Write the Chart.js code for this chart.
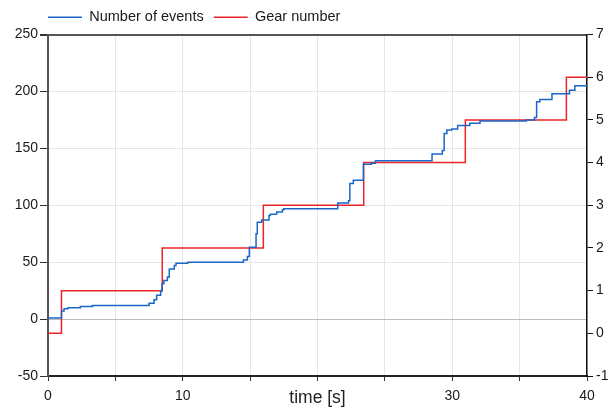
<!DOCTYPE html>
<html>
<head>
<meta charset="utf-8">
<script src="https://cdn.jsdelivr.net/npm/chart.js@4.4.1/dist/chart.umd.min.js"></script>
<style>
	html, body { margin: 0; padding: 0; background: #fff; }
	#wrap { width: 615px; height: 410px; }
</style>
</head>
<body>
<div id="wrap"><canvas id="c"></canvas></div>
<script>
// step changes: value holds from the given time until the next one
const eventTimes = [0, 1.0, 1.19, 1.48, 2.4, 3.3, 7.5, 7.87, 8.06, 8.36, 8.46, 8.6, 8.86, 9.0, 9.37, 9.5, 10.37,
	14.5, 14.8, 14.94, 15.44, 15.53, 15.86, 16.4, 16.5, 16.97, 17.4, 17.5, 21.5, 22.3, 22.4, 22.66, 23.4,
	24.0, 24.3, 28.5, 29.26, 29.4, 29.6, 29.96, 30.4, 31.3, 32.06, 35.5, 36.1, 36.26, 36.5, 37.4, 38.7, 39.1, 40];
const eventCounts = [1, 7, 9, 10, 11, 12, 14, 17, 21, 25, 31, 34, 37, 44, 47, 49, 50,
	52, 55, 63, 75, 85, 87, 91, 92, 94, 96, 97, 102, 104, 119, 122, 136,
	137, 139, 145, 148, 163, 166, 167, 170, 172, 174, 175, 177, 191, 193, 198, 201, 205, 205];

const gearTimes = [0, 1.0, 8.48, 15.98, 23.43, 30.97, 38.47, 40];
const gearValues = [0, 1, 2, 3, 4, 5, 6, 6];

// the axis title sits where the 20 label would be
const xTickLabels = [0, 10, 30, 40];
const leftRange = [-50, 250];
const rightRange = [-1, 7];

const toPoints = (xs, ys) => xs.map((x, i) => ({x: x, y: ys[i]}));

// line the legend up with the left axis instead of the canvas edge
const legendIndent = {
	id: 'legendIndent',
	afterLayout: chart => {
		chart.legend.left = chart.chartArea.left - chart.options.plugins.legend.labels.padding;
	},
};

Chart.defaults.font.family = '"Liberation Sans", Arial, sans-serif';
Chart.defaults.font.size = 14;
Chart.defaults.color = '#1a1a1a';

const ctx = document.getElementById('c').getContext('2d');
new Chart(ctx, {
	type: 'line',
	data: {
		datasets: [
			{
				label: 'Number of events',
				data: toPoints(eventTimes, eventCounts),
				borderColor: '#1b66c9',
				borderWidth: 1.5,
				stepped: true,
				pointRadius: 0,
				yAxisID: 'y',
			},
			{
				label: 'Gear number',
				data: toPoints(gearTimes, gearValues),
				borderColor: '#ec2329',
				borderWidth: 1.5,
				stepped: true,
				pointRadius: 0,
				yAxisID: 'y1',
			},
		],
	},
	plugins: [legendIndent],
	options: {
		responsive: true,
		maintainAspectRatio: false,
		animation: false,
		layout: {padding: 0},
		plugins: {
			tooltip: {enabled: false},
			legend: {
				position: 'top',
				align: 'start',
				labels: {
					usePointStyle: true,
					pointStyle: 'line',
					pointStyleWidth: 34,
					padding: 10,
					font: {size: 14.5},
				},
			},
		},
		scales: {
			x: {
				type: 'linear',
				min: 0,
				max: 40,
				afterFit: s => { s.height = 34; },
				border: {color: '#222', width: 2},
				grid: {
					color: '#e6e6e6',
					tickColor: '#333',
					tickLength: 5,
				},
				ticks: {
					stepSize: 5,
					padding: 7,
					maxRotation: 0,
					callback: v => xTickLabels.includes(v) ? v : '',
				},
				title: {
					display: true,
					text: 'time [s]',
					font: {size: 17.5},
					color: '#222',
					padding: {top: 0, bottom: 1},
				},
			},
			y: {
				position: 'left',
				min: leftRange[0],
				max: leftRange[1],
				afterFit: s => { s.width = 48; },
				border: {color: '#555', width: 2},
				grid: {
					color: c => c.tick.value === 0 ? '#bdbdbd' : (c.tick.value === 250 ? '#555' : '#e6e6e6'),
					lineWidth: c => c.tick.value === 250 ? 2 : 1,
					tickColor: '#333',
					tickLength: 8,
				},
				ticks: {stepSize: 50, padding: 2},
			},
			y1: {
				position: 'right',
				min: rightRange[0],
				max: rightRange[1],
				afterFit: s => { s.width = 28; },
				border: {color: '#111', width: 1.5},
				grid: {
					drawOnChartArea: false,
					tickColor: '#111',
					tickLength: 6,
				},
				ticks: {stepSize: 1, padding: 3},
			},
		},
	},
});
</script>
</body>
</html>
